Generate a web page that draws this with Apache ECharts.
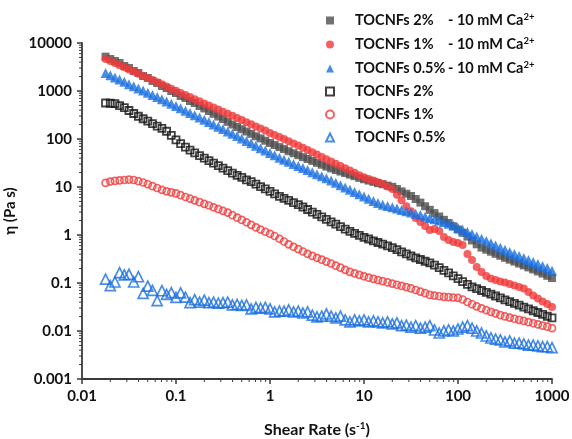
<!DOCTYPE html>
<html><head><meta charset="utf-8">
<script src="https://cdn.jsdelivr.net/npm/echarts@6/dist/echarts.min.js"></script>
<style>html,body{margin:0;padding:0;background:#fff}#c{width:572px;height:439px}</style>
</head><body><div id="c"></div>
<script>
// Shear rate (s^-1)
const shearRate = [0.0178, 0.02, 0.0224, 0.0251, 0.0282, 0.0316, 0.0355, 0.0398, 0.0447, 0.0501, 0.0562, 0.0631, 0.0708, 0.0794, 0.0891,
  0.1, 0.112, 0.126, 0.141, 0.158, 0.178, 0.2, 0.224, 0.251, 0.282, 0.316, 0.355, 0.398, 0.447, 0.501, 0.562, 0.631, 0.708, 0.794, 0.891,
  1, 1.12, 1.26, 1.41, 1.58, 1.78, 2, 2.24, 2.51, 2.82, 3.16, 3.55, 3.98, 4.47, 5.01, 5.62, 6.31, 7.08, 7.94, 8.91,
  10, 11.2, 12.6, 14.1, 15.8, 17.8, 20, 22.4, 25.1, 28.2, 31.6, 35.5, 39.8, 44.7, 50.1, 56.2, 63.1, 70.8, 79.4, 89.1,
  100, 112, 126, 141, 158, 178, 200, 224, 251, 282, 316, 355, 398, 447, 501, 562, 631, 708, 794, 891, 1000];

// Viscosity (Pa s)
const eta2Ca = [5200, 4640, 4220, 3830, 3320, 3010, 2610, 2370, 2050, 1870,
  1620, 1470, 1270, 1150, 1000, 908, 787, 715, 619, 562,
  487, 434, 383, 335, 294, 260, 228, 200, 178, 160,
  143, 128, 114, 103, 92, 82.5, 75, 67.8, 61.6, 55.7,
  50.6, 46, 41.8, 38.3, 35, 31.9, 29.1, 26.6, 24.4, 22.6,
  21, 19.5, 18.1, 16.8, 15.5, 14.5, 13.6, 12.8, 12.0, 11.4,
  10.7, 10.1, 9.08, 8.1, 7.25, 6.49, 5.62, 4.73, 3.97, 3.35,
  2.85, 2.43, 2.07, 1.78, 1.52, 1.30, 1.11, 0.926, 0.77, 0.64,
  0.546, 0.494, 0.449, 0.406, 0.369, 0.335, 0.306, 0.279, 0.254, 0.232,
  0.211, 0.192, 0.174, 0.157, 0.141, 0.127];

const eta1Ca = [4640, 4230, 3830, 3450, 3120, 2800, 2540, 2290, 2060, 1870,
  1690, 1520, 1380, 1240, 1120, 1010, 913, 825, 746, 675,
  610, 552, 501, 453, 410, 370, 335, 304, 275, 249,
  224, 202, 183, 166, 150, 134, 121, 110, 99.5, 89.5,
  81, 73, 65.6, 58.7, 52.8, 47.3, 42.4, 37.9, 34.1, 30.6,
  27.4, 24.5, 22, 19.7, 17.6, 16, 14.7, 13.6, 12.5, 11.5,
  10.3, 9.08, 6.9, 5.27, 3.98, 3.13, 2.27, 1.87, 1.54, 1.27,
  1.33, 1.21, 0.908, 0.787, 0.715, 0.681, 0.619, 0.402, 0.301, 0.215,
  0.17, 0.14, 0.124, 0.115, 0.107, 0.102, 0.0953, 0.0887, 0.0825, 0.0768,
  0.0649, 0.055, 0.0476, 0.0412, 0.0365, 0.0316];

const eta05Ca = [2360, 2120, 1910, 1740, 1550, 1390, 1260, 1130, 1020, 917,
  825, 746, 672, 604, 544, 487, 436, 390, 349, 313,
  281, 251, 225, 200, 180, 161, 144, 129, 115, 102,
  91.3, 81.4, 72.5, 64.5, 57.6, 51.3, 45.7, 40.8, 36.9, 33.4,
  30.2, 27.4, 24.8, 22.5, 20.4, 18.4, 16.8, 15.2, 13.7, 12.3,
  10.9, 9.8, 8.78, 7.87, 7.05, 6.34, 5.7, 5.13, 4.62, 4.25,
  4.02, 3.78, 3.55, 3.33, 3.13, 2.94, 2.76, 2.6, 2.41, 2.26,
  2.12, 2.0, 1.86, 1.72, 1.57, 1.41, 1.28, 1.16, 1.05, 0.935,
  0.837, 0.75, 0.675, 0.607, 0.544, 0.49, 0.444, 0.404, 0.367, 0.333,
  0.303, 0.275, 0.25, 0.227, 0.206, 0.18];

const eta2 = [562, 555, 546, 497, 452, 392, 340, 298, 264, 235,
  209, 186, 166, 145, 119, 96.2, 80.2, 67.5, 58.7, 51.3,
  45.1, 40, 35.5, 31.5, 27.8, 24.7, 21.9, 19.4, 17.5, 15.8,
  14.1, 12.9, 11.5, 10.2, 9.13, 8.1, 7.22, 6.4, 5.79, 5.24,
  4.73, 4.3, 3.83, 3.4, 3.01, 2.68, 2.38, 2.12, 1.88, 1.68,
  1.5, 1.32, 1.19, 1.08, 0.98, 0.895, 0.825, 0.757, 0.698, 0.643,
  0.593, 0.546, 0.494, 0.447, 0.404, 0.365, 0.333, 0.309, 0.284, 0.262,
  0.235, 0.209, 0.184, 0.163, 0.141, 0.123, 0.107, 0.0939, 0.0834, 0.0764,
  0.0698, 0.064, 0.0584, 0.0536, 0.049, 0.0447, 0.041, 0.0376, 0.0345, 0.0314,
  0.0288, 0.0264, 0.0243, 0.0221, 0.0203, 0.0187];

const eta1 = [12.2, 13.0, 13.4, 13.7, 14.0, 14.2, 14.0, 13.2, 12.4, 11.4,
  10.4, 9.53, 8.74, 8.13, 7.75, 7.36, 6.75, 6.19, 5.7, 5.27,
  4.84, 4.46, 4.12, 3.78, 3.46, 3.19, 2.93, 2.59, 2.3, 2.06,
  1.84, 1.63, 1.44, 1.3, 1.17, 1.06, 0.953, 0.834, 0.732, 0.64,
  0.568, 0.508, 0.453, 0.406, 0.367, 0.335, 0.306, 0.279, 0.255, 0.23,
  0.209, 0.188, 0.171, 0.159, 0.148, 0.138, 0.129, 0.122, 0.115, 0.109,
  0.103, 0.0972, 0.092, 0.087, 0.0822, 0.0772, 0.0715, 0.0662, 0.0613, 0.0565,
  0.0546, 0.053, 0.0515, 0.0508, 0.0498, 0.049, 0.0453, 0.0402, 0.0361, 0.0326,
  0.0296, 0.0271, 0.0251, 0.0233, 0.0215, 0.0201, 0.019, 0.018, 0.0171, 0.0162,
  0.0153, 0.0145, 0.0137, 0.0129, 0.0123, 0.0115];

const eta05 = [0.12, 0.088, 0.105, 0.165, 0.148, 0.152, 0.105, 0.135, 0.061, 0.086,
  0.07, 0.043, 0.069, 0.058, 0.063, 0.05, 0.062, 0.051, 0.039, 0.045,
  0.04, 0.044, 0.039, 0.04, 0.038, 0.039, 0.04, 0.035, 0.036, 0.034,
  0.035, 0.029, 0.031, 0.03, 0.031, 0.029, 0.025, 0.026, 0.026, 0.0274,
  0.025, 0.026, 0.0237, 0.025, 0.0215, 0.0196, 0.0205, 0.0226, 0.0205, 0.0187,
  0.0205, 0.017, 0.0155, 0.017, 0.0162, 0.017, 0.0155, 0.0162, 0.0155, 0.0147,
  0.0155, 0.0141, 0.0147, 0.0129, 0.0133, 0.0121, 0.0129, 0.0115, 0.0121, 0.0129,
  0.0105, 0.00908, 0.01, 0.0105, 0.01, 0.011, 0.0121, 0.0129, 0.0115, 0.01,
  0.00908, 0.00787, 0.00715, 0.0068, 0.0065, 0.0059, 0.0062, 0.0056, 0.0056, 0.0054,
  0.0051, 0.0051, 0.0049, 0.0047, 0.0047, 0.0045];

const xTickLabels = ['0.01', '0.1', '1', '10', '100', '1000'];
const yTickLabels = ['0.001', '0.01', '0.1', '1', '10', '100', '1000', '10000'];

const seriesNames = ['TOCNFs 2% - 10 mM Ca', 'TOCNFs 1% - 10 mM Ca', 'TOCNFs 0.5% - 10 mM Ca', 'TOCNFs 2%', 'TOCNFs 1%', 'TOCNFs 0.5%'];
const legendMain = ['TOCNFs 2%', 'TOCNFs 1%', 'TOCNFs 0.5%', 'TOCNFs 2%', 'TOCNFs 1%', 'TOCNFs 0.5%'];
const legendSuffix = ['- 10 mM Ca', '- 10 mM Ca', '- 10 mM Ca', '', '', ''];

const FONT = 'Lato';
const AX = '#3a3a3a';
const TXT = '#111';
const RED = '#f03b3b', BLUE = '#1a6fe0', GRAY = '#4d4d4d';

function pairs(ys) { return shearRate.map((x, i) => [x, ys[i]]); }

const chart = echarts.init(document.getElementById('c'), null, { renderer: 'canvas' });

const specs = [
  { data: eta2Ca, symbol: 'rect', size: 8, style: { color: GRAY } },
  { data: eta1Ca, symbol: 'circle', size: 8, style: { color: RED } },
  { data: eta05Ca, symbol: 'triangle', size: 10, style: { color: BLUE } },
  { data: eta2, symbol: 'rect', size: 7, style: { color: 'rgba(255,255,255,0)', borderColor: '#111', borderWidth: 1.8 } },
  { data: eta1, symbol: 'circle', size: 7, style: { color: 'rgba(255,255,255,0)', borderColor: RED, borderWidth: 1.7 } },
  { data: eta05, symbol: 'triangle', size: 10, style: { color: 'rgba(255,255,255,0)', borderColor: BLUE, borderWidth: 1.7 } }
];

const rt = (size, extra) => Object.assign({ fontFamily: FONT, fontWeight: 'bold', fontSize: size, color: TXT }, extra || {});

const option = {
  animation: false,
  backgroundColor: '#fff',
  grid: { left: 82, right: 20, top: 43, bottom: 60, containLabel: false, outerBoundsMode: 'none' },
  legend: {
    orient: 'vertical', left: 325, top: 12, padding: 0,
    itemWidth: 8, itemHeight: 8, itemGap: 8.0,
    data: seriesNames,
    formatter: function (name) {
      const i = seriesNames.indexOf(name);
      if (legendSuffix[i]) return '{sp|}{a|' + legendMain[i] + '}{b|' + legendSuffix[i] + '}{s|2+}';
      return '{sp|}{a|' + legendMain[i] + '}';
    },
    textStyle: {
      rich: {
        sp: { width: 16, lineHeight: 17 },
        a: rt(14.5, { width: 93, lineHeight: 17 }),
        b: rt(14.5, { lineHeight: 17 }),
        s: rt(9.5, { verticalAlign: 'top', lineHeight: 17 })
      }
    }
  },
  xAxis: {
    type: 'log', logBase: 10, min: 0.01, max: 1000, splitNumber: 5,
    name: '{a|Shear Rate (s}{s|-1}{a|)}', nameLocation: 'middle', nameGap: 42,
    nameTextStyle: { rich: {
      a: rt(16, { lineHeight: 18 }),
      s: rt(10, { verticalAlign: 'top', lineHeight: 18 })
    } },
    axisLine: { show: true, onZero: false, lineStyle: { color: AX, width: 1.8 } },
    axisTick: { show: true, inside: false, length: 5, lineStyle: { color: AX, width: 1.5 } },
    axisLabel: Object.assign({ margin: 10, formatter: v => xTickLabels[Math.round(Math.log10(v)) + 2] }, rt(15)),
    splitLine: { show: false }
  },
  yAxis: {
    type: 'log', logBase: 10, min: 0.001, max: 10000, splitNumber: 7,
    name: 'η (Pa s)', nameLocation: 'middle', nameGap: 52,
    nameTextStyle: rt(15),
    axisLine: { show: true, onZero: false, lineStyle: { color: AX, width: 1.8 } },
    axisTick: { show: true, inside: false, length: 5, lineStyle: { color: AX, width: 1.5 } },
    axisLabel: Object.assign({ margin: 10, formatter: v => yTickLabels[Math.round(Math.log10(v)) + 3] }, rt(15)),
    splitLine: { show: false }
  },
  series: specs.map((s, i) => ({
    name: seriesNames[i], type: 'scatter', symbol: s.symbol, symbolSize: s.size,
    data: pairs(s.data), itemStyle: s.style, emphasis: { disabled: true }
  }))
};
chart.setOption(option);

// log-spaced minor ticks (2..9 within each decade), positioned by the axes' own scales
const g = [];
const axisY = chart.convertToPixel({ yAxisIndex: 0 }, 0.001);
const axisX = chart.convertToPixel({ xAxisIndex: 0 }, 0.01);
for (let d = -2; d < 3; d++) {
  for (let m = 2; m < 10; m++) {
    const px = chart.convertToPixel({ xAxisIndex: 0 }, m * Math.pow(10, d));
    g.push({ type: 'line', shape: { x1: px, y1: axisY, x2: px, y2: axisY + 3 }, style: { stroke: AX, lineWidth: 1 }, silent: true });
  }
}
for (let d = -3; d < 4; d++) {
  for (let m = 2; m < 10; m++) {
    const py = chart.convertToPixel({ yAxisIndex: 0 }, m * Math.pow(10, d));
    g.push({ type: 'line', shape: { x1: axisX - 3, y1: py, x2: axisX, y2: py }, style: { stroke: AX, lineWidth: 1 }, silent: true });
  }
}
chart.setOption({ graphic: g });
</script>
</body></html>
